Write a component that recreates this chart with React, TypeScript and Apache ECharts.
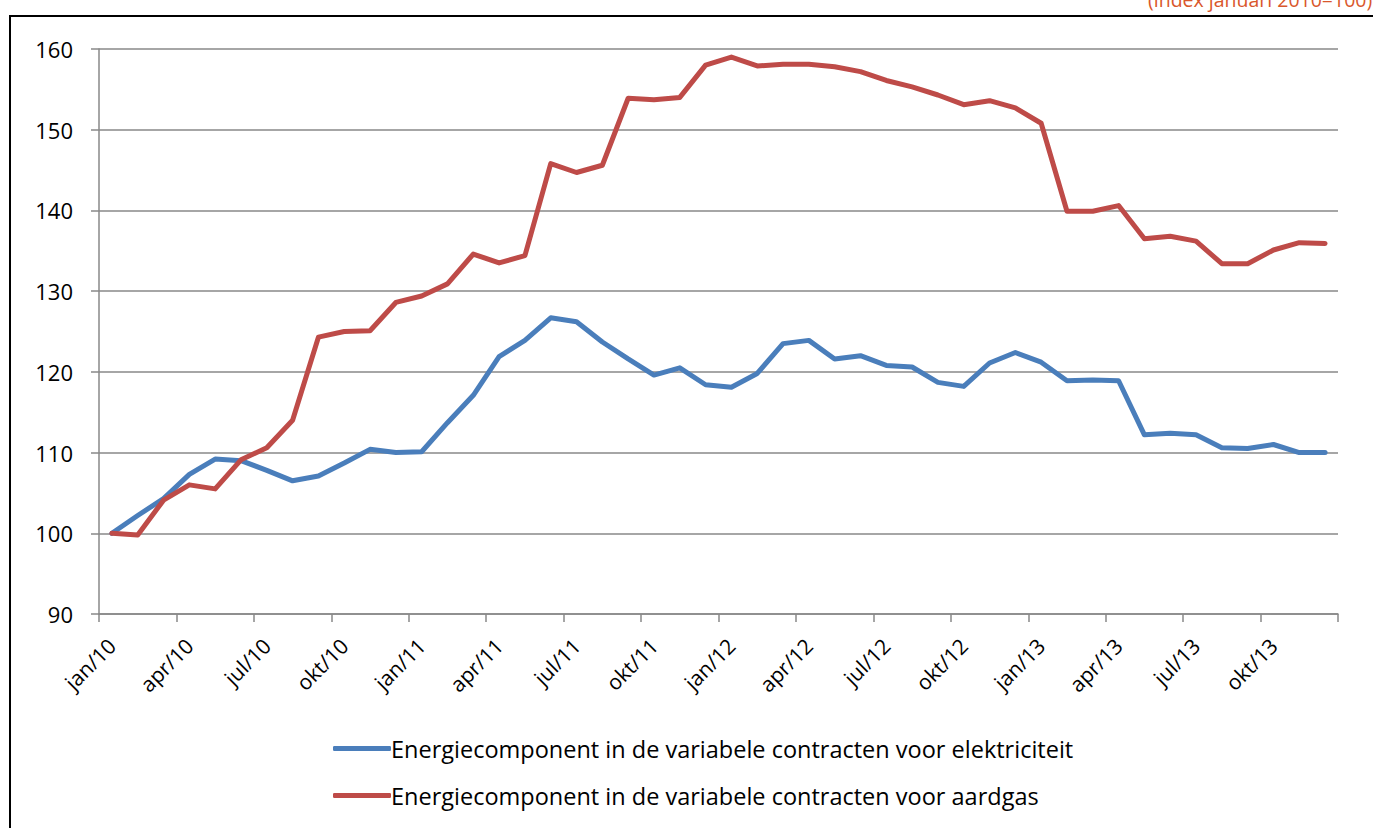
import React, { useEffect, useRef } from "react";
import * as echarts from "echarts";

const monthNames = ["jan", "feb", "mrt", "apr", "mei", "jun", "jul", "aug", "sep", "okt", "nov", "dec"];
const years = ["10", "11", "12", "13"];
const categories: string[] = years.flatMap((y) => monthNames.map((m) => `${m}/${y}`));

const electricity = [
  100, 102.2, 104.3, 107.3, 109.2, 109.0, 107.8, 106.5, 107.1, 108.7, 110.4, 110.0,
  110.1, 113.7, 117.1, 121.9, 123.9, 126.7, 126.2, 123.7, 121.6, 119.6, 120.5, 118.4,
  118.1, 119.8, 123.5, 123.9, 121.6, 122.0, 120.8, 120.6, 118.7, 118.2, 121.1, 122.4,
  121.2, 118.9, 119.0, 118.9, 112.2, 112.4, 112.2, 110.6, 110.5, 111.0, 110.0, 110.0,
];

const gas = [
  100, 99.8, 104.1, 106.0, 105.5, 109.1, 110.6, 114.0, 124.3, 125.0, 125.1, 128.6,
  129.4, 130.9, 134.6, 133.5, 134.4, 145.8, 144.7, 145.6, 153.9, 153.7, 154.0, 158.0,
  159.0, 157.9, 158.1, 158.1, 157.8, 157.2, 156.1, 155.3, 154.3, 153.1, 153.6, 152.7,
  150.8, 139.9, 139.9, 140.6, 136.5, 136.8, 136.2, 133.4, 133.4, 135.1, 136.0, 135.9,
];

const seriesNames = [
  "Energiecomponent in de variabele contracten voor elektriciteit",
  "Energiecomponent in de variabele contracten voor aardgas",
];

const noteText = "(index januari 2010=100)";

const FONT = "'Open Sans', Lato, sans-serif";

export default function App() {
  const ref = useRef<HTMLDivElement>(null);

  useEffect(() => {
    document.body.style.margin = "0";
    document.body.style.overflow = "hidden";
    if (!ref.current) return;
    const chart = echarts.init(ref.current, undefined, { renderer: "svg" });
    chart.setOption({
      animation: false,
      backgroundColor: "#ffffff",
      textStyle: { fontFamily: FONT },
      grid: { left: 99, right: 35, top: 49, bottom: 214, containLabel: false },
      xAxis: {
        type: "category",
        data: categories,
        boundaryGap: true,
        axisLine: { lineStyle: { color: "#888888", width: 1.5 } },
        axisTick: { show: true, interval: 2, length: 8, lineStyle: { color: "#888888", width: 1.5 } },
        axisLabel: {
          interval: 2,
          rotate: 45,
          margin: 28,
          color: "#000000",
          fontSize: 21,
          fontFamily: FONT,
        },
        splitLine: { show: false },
      },
      yAxis: {
        type: "value",
        min: 90,
        max: 160,
        interval: 10,
        axisLine: { show: true, lineStyle: { color: "#888888", width: 1.5 } },
        axisTick: { show: true, length: 8, lineStyle: { color: "#888888", width: 1.5 } },
        axisLabel: { margin: 26, color: "#000000", fontSize: 22, fontFamily: FONT },
        splitLine: { show: true, lineStyle: { color: "#888888", width: 1.5 } },
      },
      legend: {
        orient: "vertical",
        left: 328,
        top: 730,
        itemWidth: 58,
        itemHeight: 5,
        itemGap: 20,
        icon: "roundRect",
        textStyle: { fontSize: 23.5, color: "#000000", fontFamily: FONT, lineHeight: 27, padding: [0, 0, 0, -5] },
        data: seriesNames,
      },
      series: [
        {
          name: seriesNames[0],
          type: "line",
          data: electricity,
          symbol: "none",
          color: "#4A7EBB",
          lineStyle: { width: 5, color: "#4A7EBB", cap: "round", join: "round" },
        },
        {
          name: seriesNames[1],
          type: "line",
          data: gas,
          symbol: "none",
          color: "#BE4B48",
          lineStyle: { width: 5, color: "#BE4B48", cap: "round", join: "round" },
        },
      ],
      graphic: [
        {
          type: "rect",
          shape: { x: 10, y: 16, width: 1400, height: 900 },
          style: { fill: "none", stroke: "#000000", lineWidth: 2 },
          silent: true,
        },
        {
          type: "text",
          x: 1148,
          y: -1,
          style: {
            text: noteText,
            fill: "#D9572C",
            font: `19.5px ${FONT}`,
            textAlign: "left",
            textVerticalAlign: "middle",
          },
          silent: true,
        },
      ],
    });
    return () => chart.dispose();
  }, []);

  return <div ref={ref} style={{ width: 1373, height: 828 }} />;
}
